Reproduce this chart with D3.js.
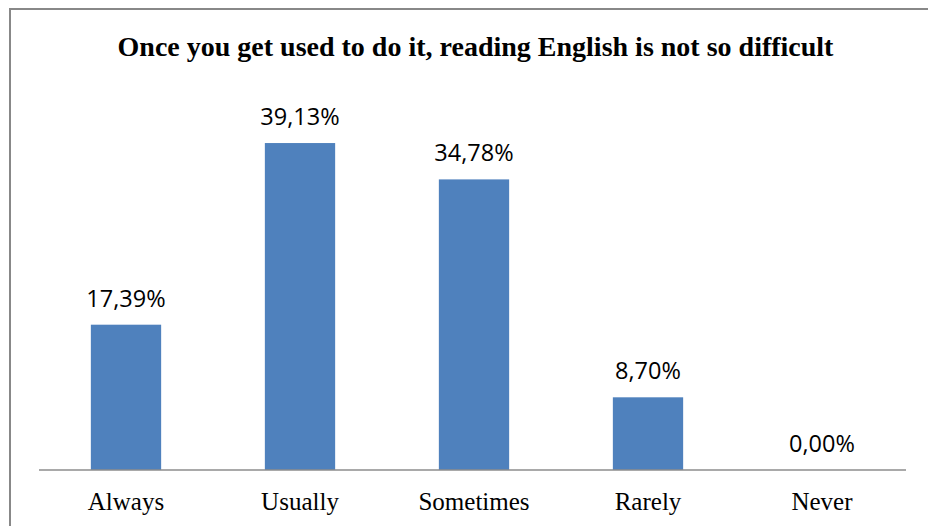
<!DOCTYPE html>
<html><head><meta charset="utf-8">
<script src="https://cdn.jsdelivr.net/npm/d3@7"></script>
<style>html,body{margin:0;padding:0;background:#fff;overflow:hidden}</style>
</head><body>
<svg id="chart" width="928" height="526"></svg>
<script>
const title = "Once you get used to do it, reading English is not so difficult";
const categories = ["Always", "Usually", "Sometimes", "Rarely", "Never"];
const values = [17.39, 39.13, 34.78, 8.70, 0.00];
const valueLabels = ["17,39%", "39,13%", "34,78%", "8,70%", "0,00%"];

const svg = d3.select("#chart");
const W = 928, H = 526;
const m = {left: 39, right: 19, top: 94, bottom: 56};
const x = d3.scaleBand().domain(categories).range([m.left, W - m.right]).paddingInner(0.596).paddingOuter(0.298);
const y = d3.scaleLinear().domain([0, 45]).range([H - m.bottom, m.top]);

// frame (left and top edges)
svg.append("path").attr("d", `M10,${H} L10,9 L${W},9`).attr("fill", "none").attr("stroke", "#888").attr("stroke-width", 2);

svg.append("text").attr("x", 475.5).attr("y", 56).attr("text-anchor", "middle")
  .attr("font-family", "'Liberation Serif','Times New Roman',serif").attr("font-weight", "bold")
  .attr("font-size", 28).attr("fill", "#000").text(title);

const data = categories.map((c, i) => ({c, v: values[i], l: valueLabels[i]}));

svg.append("g").selectAll("rect").data(data).join("rect")
  .attr("x", d => x(d.c)).attr("width", x.bandwidth())
  .attr("y", d => y(d.v)).attr("height", d => y(0) - y(d.v))
  .attr("fill", "#4F81BD");

svg.append("g").selectAll("text").data(data).join("text")
  .attr("x", d => x(d.c) + x.bandwidth() / 2).attr("y", d => y(d.v) - 18)
  .attr("text-anchor", "middle").attr("font-family", "'Open Sans',sans-serif")
  .attr("font-size", 23.5).attr("fill", "#000").text(d => d.l);

const xAxis = svg.append("g").attr("transform", `translate(0,${y(0)})`)
  .call(d3.axisBottom(x).tickSize(0).tickPadding(22));
xAxis.select(".domain").attr("stroke", "#8c8c8c").attr("stroke-width", 1.5)
  .attr("d", `M${m.left},0H906`);
xAxis.selectAll("text").attr("font-family", "'Liberation Serif','Times New Roman',serif")
  .attr("font-size", 25).attr("fill", "#000").attr("dy", "0.71em");
</script>
</body></html>
